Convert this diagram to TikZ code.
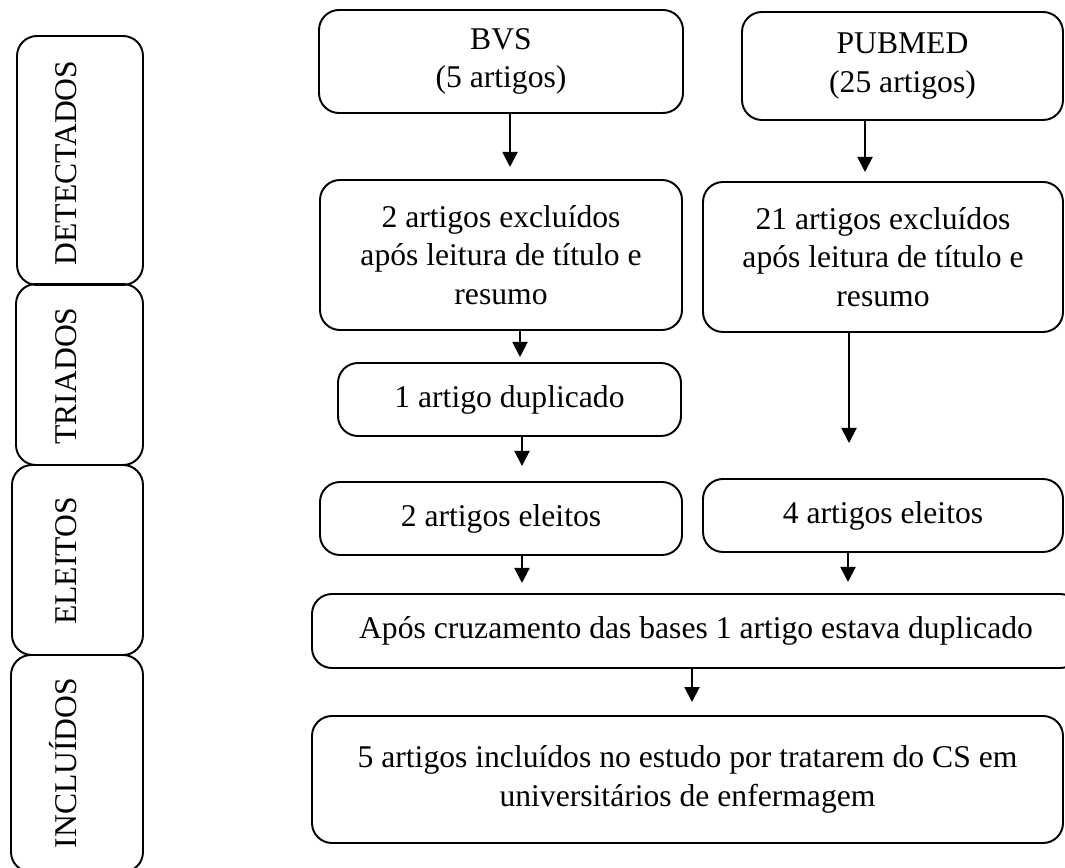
\documentclass[tikz,border=0pt]{standalone}
\usepackage{fontspec}
\setmainfont{Liberation Serif}
\usetikzlibrary{arrows.meta}

\begin{document}
\begin{tikzpicture}[
    box/.style={draw, line width=1.1pt, rounded corners=0.4cm, align=center,
                inner sep=0pt, font=\fontsize{18}{22}\selectfont},
    stagebox/.style={draw, line width=1.1pt, rounded corners=0.4cm, inner sep=0pt},
    stagelabel/.style={rotate=90, anchor=base, font=\fontsize{18}{22}\selectfont},
    arr/.style={line width=1.1pt, -{Triangle[length=0.3cm, width=0.3cm]}},
]

% ---- area ----
\path[use as bounding box, clip] (0,0) rectangle (21.3,-17.36);

% ---- etapas (coluna esquerda) ----
\node[stagebox, minimum width=2.52cm, minimum height=4.98cm] (det) at (1.60,-3.21)  {};
\node[stagebox, minimum width=2.54cm, minimum height=3.62cm] (tri) at (1.59,-7.49)  {};
\node[stagebox, minimum width=2.62cm, minimum height=3.80cm] (ele) at (1.55,-11.20) {};
\node[stagebox, minimum width=2.64cm, minimum height=4.34cm] (inc) at (1.54,-15.27) {};

\node[stagelabel] (detlbl) at (1.52,-3.26)  {DETECTADOS};
\node[stagelabel] (trilbl) at (1.52,-7.52)  {TRIADOS};
\node[stagelabel] (elelbl) at (1.52,-11.22) {ELEITOS};
\node[stagelabel] (inclbl) at (1.52,-15.26) {INCLUÍDOS};

% ---- bases ----
\node[box, minimum width=7.28cm, minimum height=2.06cm] (bvs)    at (10.02,-1.23) {BVS\\(5 artigos)};
\node[box, minimum width=6.42cm, minimum height=2.16cm] (pubmed) at (18.05,-1.32) {PUBMED\\(25 artigos)};

% ---- exclusoes ----
\node[box, minimum width=7.24cm, minimum height=3.00cm] (exclbvs) at (10.02,-5.10)
    {2 artigos excluídos\\após leitura de título e\\resumo};
\node[box, minimum width=7.20cm, minimum height=3.00cm] (exclpub) at (17.66,-5.14)
    {21 artigos excluídos\\após leitura de título e\\resumo};

\node[box, minimum width=6.86cm, minimum height=1.46cm] (dup) at (10.19,-7.99) {1 artigo duplicado};

% ---- eleitos ----
\node[box, minimum width=7.24cm, minimum height=1.46cm] (eleitobvs) at (10.02,-10.37) {2 artigos eleitos};
\node[box, minimum width=7.20cm, minimum height=1.46cm] (eleitopub) at (17.66,-10.31) {4 artigos eleitos};

% ---- cruzamento e incluidos ----
\node[box, minimum width=15.36cm, minimum height=1.48cm] (cruz) at (13.92,-12.62)
    {Após cruzamento das bases 1 artigo estava duplicado};
\node[box, minimum width=15.02cm, minimum height=2.54cm] (incl) at (13.75,-15.59)
    {5 artigos incluídos no estudo por tratarem do CS em\\universitários de enfermagem};

% ---- setas ----
\coordinate (t1) at (10.20,-3.34);
\coordinate (t2) at (17.30,-3.44);
\coordinate (t3) at (10.40,-7.14);
\coordinate (t4) at (10.44,-9.32);
\coordinate (t5) at (16.98,-8.86);
\coordinate (t6) at (10.44,-11.66);
\coordinate (t7) at (16.96,-11.64);
\coordinate (t8) at (13.84,-14.04);

\draw[arr] (t1 |- bvs.south)       -- (t1);
\draw[arr] (t2 |- pubmed.south)    -- (t2);
\draw[arr] (t3 |- exclbvs.south)   -- (t3);
\draw[arr] (t4 |- dup.south)       -- (t4);
\draw[arr] (t5 |- exclpub.south)   -- (t5);
\draw[arr] (t6 |- eleitobvs.south) -- (t6);
\draw[arr] (t7 |- eleitopub.south) -- (t7);
\draw[arr] (t8 |- cruz.south)      -- (t8);

\end{tikzpicture}
\end{document}
